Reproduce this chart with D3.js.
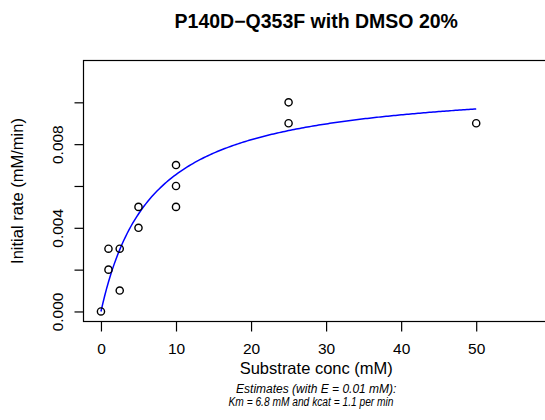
<!DOCTYPE html>
<html>
<head>
<meta charset="utf-8">
<script src="https://cdn.jsdelivr.net/npm/d3@7"></script>
<style>
  body { margin: 0; background: #fff; }
  text { font-family: "Liberation Sans", Arial, sans-serif; }
</style>
</head>
<body>
<div id="chart"></div>
<script>
const width = 545, height = 420;

// Observed data
const substrate = [0, 1, 1, 2.5, 2.5, 5, 5, 10, 10, 10, 25, 25, 50];
const rates = [0, 0.003, 0.002, 0.003, 0.001, 0.005, 0.004, 0.007, 0.006, 0.005, 0.010, 0.009, 0.009];

// Fitted Michaelis-Menten parameters
const Km = 6.8;
const kcat = 1.1;
const E = 0.01;

const xTicks = [0, 10, 20, 30, 40, 50];
const yTicks = [0, 0.002, 0.004, 0.006, 0.008, 0.010];
const yLabelled = [0, 0.004, 0.008];
const curveS = d3.range(0, 50.01, 0.25);

const box = { left: 83.5, top: 60.5, bottom: 321.5, right: 549 };

const x = d3.scaleLinear().domain([-2.3, 59.7]).range([box.left + 0.2, box.right]);
const y = d3.scaleLinear().domain([-0.00048, 0.012]).range([box.bottom, box.top]);

const svg = d3.select("#chart")
  .append("svg")
  .attr("width", width)
  .attr("height", height);

// Box
svg.append("rect")
  .attr("x", box.left)
  .attr("y", box.top)
  .attr("width", box.right - box.left)
  .attr("height", box.bottom - box.top)
  .attr("fill", "none")
  .attr("stroke", "#000")
  .attr("stroke-width", 1.2);

// Axes
const xAxis = d3.axisBottom(x).tickValues(xTicks).tickSize(10).tickPadding(11)
  .tickFormat(d3.format("d"));
const gx = svg.append("g")
  .attr("transform", `translate(0, ${box.bottom})`)
  .call(xAxis);
gx.select(".domain").remove();
gx.selectAll(".tick line").attr("stroke", "#000").attr("stroke-width", 1.2);
gx.selectAll(".tick text").attr("font-size", 15.5).attr("fill", "#000")
  .attr("font-family", "Liberation Sans, Arial, sans-serif");

const yAxis = d3.axisLeft(y).tickValues(yTicks).tickSize(9)
  .tickFormat(d => yLabelled.includes(d) ? d3.format(".3f")(d) : "");
const gy = svg.append("g")
  .attr("transform", `translate(${box.left}, 0)`)
  .call(yAxis);
gy.select(".domain").remove();
gy.selectAll(".tick line").attr("stroke", "#000").attr("stroke-width", 1.2);
gy.selectAll(".tick text")
  .attr("font-size", 15.5).attr("fill", "#000")
  .attr("font-family", "Liberation Sans, Arial, sans-serif")
  .attr("text-anchor", "middle")
  .attr("x", 0).attr("dy", 0)
  .attr("transform", "translate(-21, 0) rotate(-90)");

// Fitted curve
const line = d3.line()
  .x(s => x(s))
  .y(s => y(kcat * E * s / (Km + s)));

svg.append("path")
  .datum(curveS)
  .attr("d", line)
  .attr("fill", "none")
  .attr("stroke", "#0000ff")
  .attr("stroke-width", 1.5);

// Points
svg.append("g")
  .selectAll("circle")
  .data(substrate)
  .join("circle")
  .attr("cx", d => x(d))
  .attr("cy", (d, i) => y(rates[i]))
  .attr("r", 3.6)
  .attr("fill", "none")
  .attr("stroke", "#000")
  .attr("stroke-width", 1.4);

// Titles
const midX = (box.left + box.right) / 2;
svg.append("text")
  .attr("x", midX).attr("y", 28)
  .attr("text-anchor", "middle")
  .attr("font-size", 19.5)
  .attr("font-weight", "bold")
  .text("P140D\u2212Q353F with DMSO 20%");

svg.append("text")
  .attr("x", midX).attr("y", 374)
  .attr("text-anchor", "middle")
  .attr("font-size", 16.5)
  .text("Substrate conc (mM)");

svg.append("text")
  .attr("transform", `translate(23, ${(box.top + box.bottom) / 2}) rotate(-90)`)
  .attr("text-anchor", "middle")
  .attr("font-size", 16.5)
  .text("Initial rate (mM/min)");

svg.append("text")
  .attr("x", midX).attr("y", 393)
  .attr("text-anchor", "middle")
  .attr("font-size", 12)
  .attr("font-style", "italic")
  .text(`Estimates (with E = ${E} mM):`);

svg.append("text")
  .attr("x", 311).attr("y", 406)
  .attr("text-anchor", "middle")
  .attr("font-size", 12)
  .attr("font-style", "italic")
  .attr("textLength", 165)
  .attr("lengthAdjust", "spacingAndGlyphs")
  .text(`Km = ${Km} mM and kcat = ${kcat} per min`);
</script>
</body>
</html>
